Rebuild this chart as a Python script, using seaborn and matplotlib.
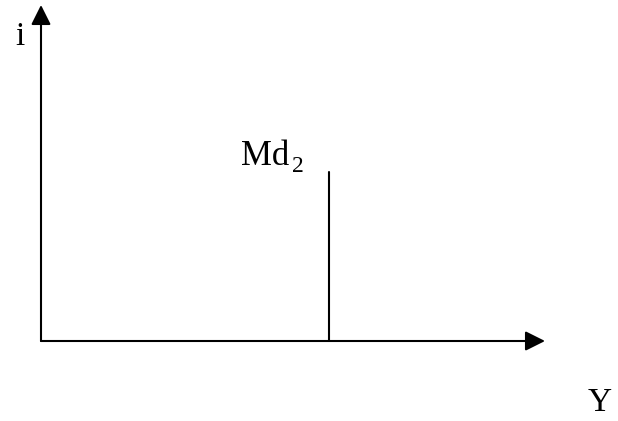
import matplotlib
matplotlib.use("Agg")
import matplotlib.pyplot as plt
import seaborn as sns
import pandas as pd

# Money-demand diagram: interest rate i against income Y
axis_labels = ["Y", "i"]
curve_name = "Md"
curve_index = "2"
md_income = [288, 288]        # income level where money demand is drawn
md_rate = [0, 169]            # vertical extent of the Md2 schedule
x_axis_end = 504
y_axis_end = 336

sns.set_theme(style="white")
plt.rcParams["font.family"] = ["Liberation Serif", "DejaVu Serif"]

fig = plt.figure(figsize=(6.18, 4.21), dpi=100)
ax = fig.add_axes([0, 0, 1, 1])
ax.set_xlim(-41, 577)
ax.set_ylim(-80, 341)
ax.axis("off")

# Axes with arrowheads
arrow = dict(arrowstyle="-|>,head_length=1.0,head_width=0.5", mutation_scale=12,
             color="black", lw=1.5, shrinkA=0, shrinkB=0)
ax.annotate("", xy=(x_axis_end, 0), xytext=(0, 0), arrowprops=arrow)
ax.annotate("", xy=(0, y_axis_end), xytext=(0, 0), arrowprops=arrow)

# Vertical money-demand schedule
df = pd.DataFrame({"Y": md_income, "i": md_rate})
sns.lineplot(data=df, x="Y", y="i", estimator=None, sort=False,
             color="black", lw=1.5, ax=ax)

# Curve label with a lowered index
ax.text(200, 176, curve_name, fontsize=25, color="black", ha="left", va="baseline")
ax.text(251, 169, curve_index, fontsize=17, color="black", ha="left", va="baseline")

ax.text(-26, 296, axis_labels[1], fontsize=24, color="black", ha="left", va="baseline")
ax.text(547, -70, axis_labels[0], fontsize=24, color="black", ha="left", va="baseline")

fig.savefig("out.png", dpi=100)
